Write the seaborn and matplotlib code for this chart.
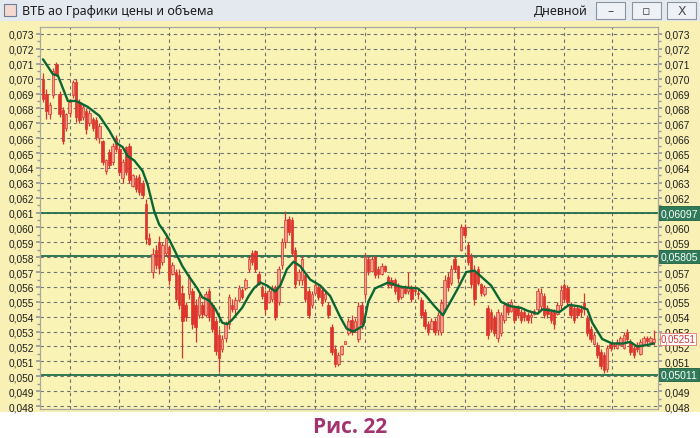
import numpy as np
import seaborn as sns
import matplotlib.pyplot as plt
import matplotlib.transforms as mtransforms
from matplotlib.patches import Rectangle
from matplotlib.ticker import MultipleLocator, FuncFormatter

# daily candles, prices in units of 0.0001
opens = [700, 690, 676, 689, 710, 690, 679, 667, 677, 689, 698, 684, 674, 678, 670, 673, 672, 660, 658, 638,
         651, 644, 660, 653, 633, 654, 655, 628, 633, 634, 630, 616, 593, 570, 585, 590, 577, 583, 587, 569,
         570, 568, 556, 548, 555, 557, 548, 541, 548, 541, 557, 548, 537, 528, 518, 526, 535, 548, 545, 551,
         558, 559, 572, 583, 584, 569, 559, 556, 550, 552, 559, 550, 575, 590, 606, 605, 585, 565, 565, 568,
         557, 548, 556, 560, 558, 552, 548, 533, 518, 508, 515, 522, 529, 538, 532, 525, 548, 555, 579, 571,
         580, 572, 569, 574, 567, 565, 565, 561, 553, 559, 557, 560, 558, 556, 551, 543, 535, 532, 537, 531,
         530, 545, 567, 563, 579, 574, 585, 600, 588, 581, 570, 572, 562, 555, 546, 543, 539, 526, 529, 538,
         548, 544, 546, 546, 543, 543, 541, 540, 542, 545, 547, 554, 546, 543, 543, 542, 548, 561, 559, 548,
         546, 546, 545, 549, 539, 532, 522, 521, 516, 514, 505, 522, 521, 519, 521, 519, 530, 523, 519, 521,
         515, 521, 526, 523, 523]
highs = [704, 693, 684, 707, 711, 692, 681, 677, 686, 699, 700, 686, 683, 680, 679, 674, 674, 670, 659, 646,
         653, 657, 662, 655, 646, 655, 657, 636, 635, 636, 632, 619, 596, 586, 588, 594, 590, 596, 588, 577,
         572, 572, 561, 550, 569, 559, 552, 555, 550, 557, 559, 550, 539, 532, 528, 537, 555, 552, 553, 561,
         559, 566, 581, 585, 585, 571, 561, 558, 559, 561, 561, 574, 593, 611, 608, 607, 587, 572, 581, 570,
         559, 557, 563, 562, 559, 557, 550, 535, 521, 516, 521, 524, 539, 541, 539, 550, 550, 583, 581, 581,
         581, 574, 576, 575, 568, 567, 566, 563, 561, 561, 570, 561, 561, 559, 553, 545, 537, 539, 539, 543,
         552, 568, 570, 575, 581, 575, 602, 602, 590, 583, 575, 574, 563, 561, 548, 545, 541, 545, 543, 550,
         550, 552, 548, 548, 545, 545, 543, 543, 545, 559, 559, 556, 548, 545, 545, 550, 561, 563, 561, 550,
         548, 548, 548, 556, 541, 534, 530, 523, 518, 516, 521, 523, 523, 525, 527, 530, 532, 525, 521, 523,
         525, 527, 527, 527, 531]
lows = [684, 673, 673, 687, 702, 674, 656, 665, 674, 687, 671, 670, 672, 663, 668, 665, 659, 657, 642, 636,
        640, 642, 651, 635, 630, 635, 630, 627, 624, 622, 620, 589, 588, 566, 572, 569, 575, 581, 561, 568,
        550, 545, 512, 537, 552, 532, 523, 539, 539, 540, 537, 530, 514, 503, 516, 523, 532, 543, 542, 550,
        552, 558, 570, 575, 570, 561, 552, 542, 549, 550, 538, 548, 572, 586, 595, 581, 559, 561, 561, 550,
        539, 546, 555, 551, 547, 550, 539, 514, 506, 507, 514, 522, 528, 528, 530, 523, 532, 552, 568, 570,
        566, 566, 568, 570, 559, 559, 555, 550, 552, 555, 555, 550, 555, 552, 539, 532, 528, 532, 528, 528,
        528, 543, 557, 561, 570, 563, 584, 593, 575, 559, 548, 561, 554, 554, 525, 530, 527, 523, 527, 536,
        541, 543, 536, 539, 536, 537, 536, 536, 541, 543, 545, 539, 539, 536, 532, 541, 545, 550, 548, 539,
        536, 539, 540, 541, 527, 523, 521, 512, 505, 502, 503, 517, 518, 518, 521, 518, 523, 514, 512, 516,
        514, 521, 522, 523, 521]
closes = [686, 678, 682, 705, 703, 676, 658, 676, 684, 698, 674, 672, 681, 666, 677, 667, 661, 668, 644, 645,
          642, 655, 653, 637, 644, 637, 632, 635, 626, 624, 622, 592, 589, 582, 575, 573, 588, 593, 565, 575,
          552, 548, 537, 540, 567, 535, 533, 553, 542, 555, 540, 532, 517, 512, 525, 535, 553, 545, 551, 559,
          553, 565, 579, 577, 572, 562, 554, 545, 557, 559, 540, 572, 590, 605, 597, 583, 562, 570, 579, 552,
          541, 555, 561, 553, 549, 555, 541, 516, 508, 514, 520, 524, 537, 530, 537, 547, 535, 580, 571, 579,
          568, 569, 574, 571, 561, 561, 557, 552, 559, 556, 560, 552, 557, 555, 541, 534, 530, 537, 530, 541,
          549, 565, 560, 572, 572, 566, 600, 595, 577, 562, 552, 563, 556, 560, 528, 532, 529, 543, 541, 548,
          543, 550, 538, 541, 538, 540, 538, 541, 544, 557, 556, 541, 542, 538, 535, 548, 558, 552, 550, 541,
          538, 541, 543, 545, 529, 525, 528, 514, 507, 504, 519, 519, 520, 523, 526, 528, 525, 516, 514, 518,
          523, 526, 524, 526, 525]

# moving average (candle index, value in units of 0.0001)
ma_idx = [0, 3, 4.5, 7.5, 10, 13.5, 17, 20, 22, 24, 25.5, 27.5, 30, 31.5, 33.5, 35, 36, 38, 40, 42,
          44, 46.5, 48, 50, 52, 54, 55.5, 57, 60, 62, 63.5, 65.5, 67.5, 70, 71.5, 73.5, 75.5, 77.5, 80.5, 83.5,
          86.5, 89.5, 91.5, 93.5, 96.5, 98, 100, 104, 108, 113, 115, 118, 120.5, 122, 125, 127.5, 130, 132, 135, 138,
          141, 144, 146, 149, 150.5, 153.5, 155.5, 158.5, 161.5, 164, 165.5, 168.5, 171.5, 174.5, 177, 179, 182, 184]
ma_vals = [713, 703, 702, 685, 685, 681, 675, 665, 657, 654, 648, 645, 638, 629, 611, 602, 599, 592, 583, 574,
           567, 559, 553, 551, 545, 536, 535, 538, 546, 554, 559, 563, 561, 557, 561, 572, 577, 574, 565, 561,
           554, 540, 532, 530, 534, 550, 559, 563, 560, 559, 555, 547, 541, 547, 559, 570, 571, 567, 561, 550,
           547, 546, 544, 542, 545, 544, 543, 548, 547, 545, 536, 525, 522, 522, 523, 520, 521, 522]

levels = [0.06097, 0.05805, 0.05011]
level_labels = ["0,06097", "0,05805", "0,05011"]
last_price = 0.05251
last_label = "0,05251"
hidden_right = ["0,061", "0,058", "0,050"]
vgrid = [8, 23, 38, 53, 67, 82, 97, 112, 127, 142, 157, 171.5]

sns.set_theme(style="ticks")
plt.rcParams['font.family'] = ['Liberation Sans', 'DejaVu Sans']

fig = plt.figure(figsize=(7, 4.39), dpi=100)
fig.patch.set_facecolor('white')

# window background + title bar
fig.patches.append(Rectangle((0, 26 / 439), 1, 1 - 48 / 439, transform=fig.transFigure,
                             facecolor='#f8f0b4', edgecolor='none', zorder=-10))
fig.patches.append(Rectangle((0, 1 - 22 / 439), 1, 22 / 439, transform=fig.transFigure,
                             facecolor='#e4e9f0', edgecolor='none', zorder=-10))
fig.patches.append(Rectangle((4 / 700, 1 - 17 / 439), 12 / 700, 12 / 439, transform=fig.transFigure,
                             facecolor='#f3d9d0', edgecolor='#6a7f9a', lw=0.8, zorder=-9))
fig.text(22 / 700, 1 - 11.5 / 439, "ВТБ ао Графики цены и объема", fontsize=9,
         family=['Noto Sans', 'DejaVu Sans'], color='#1e1e1e', va='center', ha='left')
fig.text(588 / 700, 1 - 11.5 / 439, "Дневной", fontsize=9,
         family=['Noto Sans', 'DejaVu Sans'], color='#1e1e1e', va='center', ha='right')
for x0, sym in [(596, "–"), (632, "▫"), (667, "X")]:
    fig.patches.append(Rectangle((x0 / 700, 1 - 20 / 439), 29 / 700, 17 / 439, transform=fig.transFigure,
                                 facecolor='#eef1f6', edgecolor='#8c949e', lw=0.8, zorder=-9))
    fig.text((x0 + 14.5) / 700, 1 - 11.5 / 439, sym, fontsize=9, color='#444b55',
             ha='center', va='center', family=['DejaVu Sans'])

ax = fig.add_axes([40 / 700, 1 - 410 / 439, 618 / 700, 382 / 439])
ax.set_facecolor('#faf3b6')

x = np.arange(len(opens))
o = np.array(opens) / 1e4
h = np.array(highs) / 1e4
l = np.array(lows) / 1e4
c = np.array(closes) / 1e4
up = c >= o

ax.vlines(x, l, h, color='#d8352f', lw=0.9, zorder=3)
ax.bar(x[up], (c - o)[up], bottom=o[up], width=0.75, color='#eea08c',
       edgecolor='#d8352f', lw=0.5, zorder=4)
ax.bar(x[~up], (o - c)[~up], bottom=c[~up], width=0.75, color='#e0332c',
       edgecolor='#d8352f', lw=0.5, zorder=4)

sns.lineplot(x=ma_idx, y=np.array(ma_vals) / 1e4, ax=ax, color='#0b6634', lw=1.7, zorder=5)

for lev in levels:
    ax.axhline(lev, color='#1f6e4a', lw=1.3, zorder=2)

ax.set_xlim(-0.9, 185.3)
ax.set_ylim(0.0478, 0.07347)
ax.set_xticks(vgrid)
ax.set_xticklabels([])
ax.tick_params(axis='x', length=0)

fmt = lambda v, p: f"{v:.3f}".replace('.', ',')
ax2 = ax.twinx()
ax2.set_ylim(ax.get_ylim())
for a in (ax, ax2):
    a.yaxis.set_major_locator(MultipleLocator(0.001))
    a.yaxis.set_minor_locator(MultipleLocator(0.0005))
    a.tick_params(axis='y', which='both', labelsize=7.3, colors='#9a9a9a', labelcolor='#1e1e1e', pad=1.5)
    a.tick_params(axis='y', which='major', length=3)
    a.tick_params(axis='y', which='minor', length=2)
    a.set_ylabel('')
ax.yaxis.set_major_formatter(FuncFormatter(fmt))
ax2.yaxis.set_major_formatter(FuncFormatter(lambda v, p: '' if fmt(v, p) in hidden_right else fmt(v, p)))

ax.grid(True, which='major', linestyle=(0, (3, 3)), color='#6f6f6f', lw=0.8)
ax.set_axisbelow(True)
for a in (ax, ax2):
    for side in ['left', 'right', 'bottom', 'top']:
        a.spines[side].set_color('#a8a8a0')
        a.spines[side].set_linewidth(0.8)
ax.set_xlabel('')
ax.set_ylabel('')

trans = mtransforms.blended_transform_factory(ax2.transAxes, ax2.transData)
for lev, lab in zip(levels, level_labels):
    ax2.text(1.004, lev, lab, transform=trans, ha='left', va='center', fontsize=7.5, color='white',
             bbox=dict(boxstyle='square,pad=0.18', fc='#2f7a58', ec='#1f5e40', lw=0.6),
             zorder=6, clip_on=False)
ax2.text(1.004, last_price, last_label, transform=trans, ha='left', va='center', fontsize=7,
         color='#d8352f', bbox=dict(boxstyle='square,pad=0.08', fc='white', ec='#e07a70', lw=0.6),
         zorder=6, clip_on=False)

fig.text(0.5, 1 - 428 / 439, "Рис. 22", fontsize=15, fontweight='bold',
         family=['Open Sans', 'DejaVu Sans'], color='#a3336f', ha='center', va='center')

fig.savefig('out.png', dpi=100, facecolor=fig.get_facecolor())
